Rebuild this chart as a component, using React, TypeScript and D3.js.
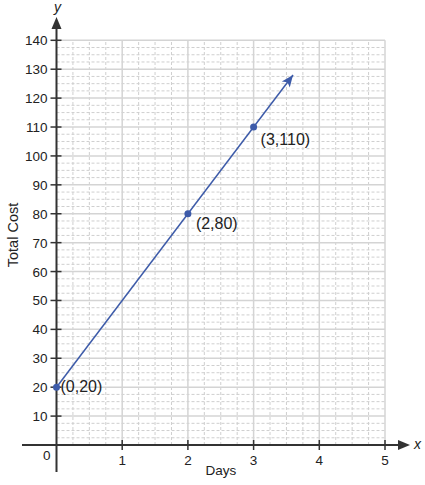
import React from "react";
import * as d3 from "d3";

const xTicks = [1, 2, 3, 4, 5];
const yTicks = [10, 20, 30, 40, 50, 60, 70, 80, 90, 100, 110, 120, 130, 140];
const pointsX = [0, 2, 3];
const pointsY = [20, 80, 110];
const pointLabels = ["(0,20)", "(2,80)", "(3,110)"];
const lineEnd = [3.6, 128];
const xLabel = "Days";
const yLabel = "Total Cost";

const W = 425;
const H = 485;
const FONT = "'Liberation Sans', Arial, Helvetica, sans-serif";

export default function App() {
  const x = d3.scaleLinear().domain([0, 5]).range([56.5, 385]);
  const y = d3.scaleLinear().domain([0, 140]).range([445, 40.3]);
  const blue = "#3d5ba9";
  const axisCol = "#333333";

  const minorX = d3.range(0, 5.0001, 0.25).filter((v) => Math.abs(v - Math.round(v)) > 1e-6);
  const minorY = d3.range(0, 140.0001, 2.5).filter((v) => Math.abs(v / 10 - Math.round(v / 10)) > 1e-6);
  const majorX = d3.range(1, 6, 1);
  const majorY = d3.range(10, 150, 10);

  const lineGen = d3.line<[number, number]>().x((d) => x(d[0])).y((d) => y(d[1]));
  const x0 = x(pointsX[0]), y0 = y(pointsY[0]);
  const x1 = x(lineEnd[0]), y1 = y(lineEnd[1]);
  const ang = Math.atan2(y1 - y0, x1 - x0);
  const aL = 12, aW = 5;
  const bx = x1 - aL * Math.cos(ang), by = y1 - aL * Math.sin(ang);
  const arrow = `M${x1},${y1} L${bx + aW * Math.sin(ang)},${by - aW * Math.cos(ang)} L${x1 - (aL - 3) * Math.cos(ang)},${y1 - (aL - 3) * Math.sin(ang)} L${bx - aW * Math.sin(ang)},${by + aW * Math.cos(ang)} Z`;

  const labelOffsets = [
    [4, 5],
    [8, 15],
    [7, 18],
  ];

  return (
    <svg width={W} height={H} style={{ position: "absolute", left: 0, top: 0, background: "#fff" }} fontFamily={FONT}>
      {/* minor grid */}
      {minorX.map((v) => (
        <line key={"mx" + v} x1={x(v)} x2={x(v)} y1={y(0)} y2={y(140)} stroke="#cfcfcf" strokeWidth={1} strokeDasharray="3,2" />
      ))}
      {minorY.map((v) => (
        <line key={"my" + v} x1={x(0)} x2={x(5)} y1={y(v)} y2={y(v)} stroke="#cfcfcf" strokeWidth={1} strokeDasharray="3,2" />
      ))}
      {/* major grid */}
      {majorX.map((v) => (
        <line key={"Mx" + v} x1={x(v)} x2={x(v)} y1={y(0)} y2={y(140)} stroke="#d4d4d4" strokeWidth={1.5} />
      ))}
      {majorY.map((v) => (
        <line key={"My" + v} x1={x(0)} x2={x(5)} y1={y(v)} y2={y(v)} stroke="#d4d4d4" strokeWidth={1.5} />
      ))}

      {/* axes */}
      <line x1={22} x2={402} y1={y(0)} y2={y(0)} stroke={axisCol} strokeWidth={2} />
      <path d={`M410,${y(0)} L398,${y(0) - 5} L398,${y(0) + 5} Z`} fill={axisCol} />
      <line x1={x(0)} x2={x(0)} y1={472} y2={24} stroke={axisCol} strokeWidth={2} />
      <path d={`M${x(0)},17 L${x(0) - 5},29 L${x(0) + 5},29 Z`} fill={axisCol} />
      <text x={414} y={y(0) + 4} fontSize={14} fontStyle="italic" fill="#222">x</text>
      <text x={x(0) + 1} y={12} fontSize={14} fontStyle="italic" fill="#222" textAnchor="middle">y</text>

      {/* ticks */}
      {xTicks.map((v) => (
        <g key={"xt" + v}>
          <line x1={x(v)} x2={x(v)} y1={y(0) - 5} y2={y(0) + 5} stroke={axisCol} strokeWidth={1.5} />
          <text x={x(v)} y={y(0) + 20} fontSize={13.5} textAnchor="middle" fill="#222">{v}</text>
        </g>
      ))}
      {yTicks.map((v) => (
        <g key={"yt" + v}>
          <line x1={x(0) - 6} x2={x(0) + 5} y1={y(v)} y2={y(v)} stroke={axisCol} strokeWidth={1.5} />
          <text x={x(0) - 9} y={y(v) + 5} fontSize={13.5} textAnchor="end" fill="#222">{v}</text>
        </g>
      ))}
      <text x={x(0) - 6} y={y(0) + 15} fontSize={13.5} textAnchor="end" fill="#222">0</text>

      <text x={221} y={475} fontSize={13.5} textAnchor="middle" fill="#222">{xLabel}</text>
      <text transform={`translate(18,${235}) rotate(-90)`} fontSize={14.5} textAnchor="middle" fill="#222">{yLabel}</text>

      {/* line */}
      <path d={lineGen([[pointsX[0], pointsY[0]], [lineEnd[0], lineEnd[1]]] as [number, number][]) || ""} stroke={blue} strokeWidth={1.5} fill="none" />
      <path d={arrow} fill={blue} />
      {pointsX.map((v, i) => (
        <g key={"p" + i}>
          <circle cx={x(v)} cy={y(pointsY[i])} r={3.5} fill={blue} />
          <text x={x(v) + labelOffsets[i][0]} y={y(pointsY[i]) + labelOffsets[i][1]} fontSize={16} fill="#222">{pointLabels[i]}</text>
        </g>
      ))}
    </svg>
  );
}
